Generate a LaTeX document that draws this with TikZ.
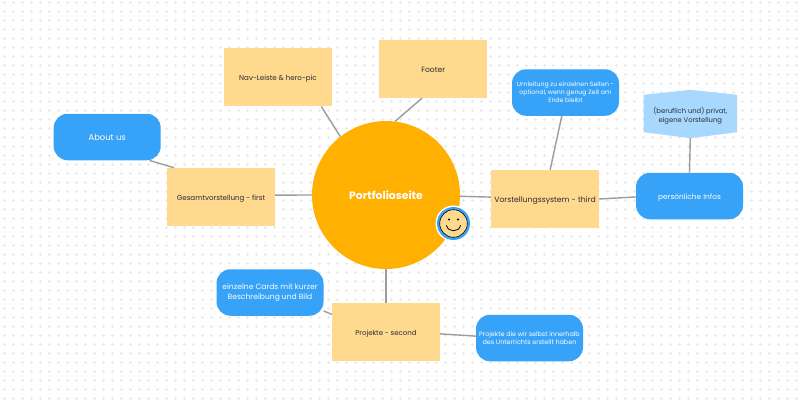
\documentclass[tikz,border=0pt]{standalone}
\usepackage{fontspec}
\setmainfont{Poppins}
\usetikzlibrary{calc}
\definecolor{hubfill}{HTML}{FFB000}
\definecolor{notefill}{HTML}{FFD98E}
\definecolor{cardfill}{HTML}{36A2F8}
\definecolor{hexfill}{HTML}{A9D8FF}
\definecolor{linkgray}{HTML}{9C9C9C}
\definecolor{inkdark}{HTML}{2B2B36}
\definecolor{dotgray}{HTML}{E9E9E9}
\tikzset{
	note/.style={fill=notefill, text=inkdark, minimum width=108pt, minimum height=58pt, inner sep=0pt, align=center, text height=8pt, text depth=1.8pt, font=\fontsize{7.1}{10}\selectfont},
	card/.style={fill=cardfill, text=white, rounded corners=14pt, minimum width=107pt, minimum height=46.5pt, inner sep=0pt, align=center},
	link/.style={draw=linkgray, line width=1.4pt}
}

\begin{document}
\begin{tikzpicture}[x=1pt, y=-1pt]
	%%%%% START %%%%%
	\useasboundingbox (0, 0) rectangle (802, 407);
	\fill[white] (0, 0) rectangle (802, 407);
	
	% dotted paper
	\foreach \px in {0,...,88}
		\foreach \py in {0,...,44}
			\draw[dotgray, line width=0.6pt] ({4.3+9*\px-1.3}, {2.3+9*\py}) -- ++(2.6, 0) ({4.3+9*\px}, {2.3+9*\py-1.3}) -- ++(0, 2.6);
	
	\node[circle, fill=hubfill, text=white, minimum size=148pt, inner sep=0pt, font=\fontsize{10.8}{12}\bfseries\selectfont] (hub) at (386, 195) {Portfolioseite};
	
	\node[note] (nav) at (278, 77.3) {Nav-Leiste \& hero-pic};
	\node[note, font=\fontsize{7.6}{10}\selectfont] (footer) at (433.2, 69) {Footer};
	\node[note] (gesamt) at (221, 197) {Gesamtvorstellung - first};
	\node[note, font=\fontsize{7.7}{10}\selectfont] (vorst) at (545, 199) {Vorstellungssystem - third};
	\node[note, font=\fontsize{7}{10}\selectfont] (proj) at (386, 332) {Projekte - second};
	
	\node[card, font=\fontsize{8.4}{10}\selectfont] (about) at (107.2, 137) {About us};
	\node[card, font=\fontsize{6.2}{7.9}\selectfont] (umleit) at (565.5, 92.5) {Umleitung zu einzelnen Seiten -\\optional, wenn genug Zeit am\\Ende bleibt};
	\node[card, text height=8pt, text depth=1.8pt, font=\fontsize{7.4}{10}\selectfont] (infos) at (689.5, 196) {persönliche Infos};
	\node[card, font=\fontsize{7.6}{9.4}\selectfont] (cards) at (270, 292.5) {einzelne Cards mit kurzer\\Beschreibung und Bild};
	\node[card, font=\fontsize{6.4}{8}\selectfont] (eigene) at (529.5, 338) {Projekte die wir selbst innerhalb\\des Unterrichts erstellt haben};
	
	\node[minimum width=93pt, minimum height=48pt, inner sep=0pt] (hex) at (690.3, 114) {};
	\fill[hexfill] (hex.north) -- ($(hex.north east)+(0, 5)$) -- ($(hex.south east)+(0, -6)$) -- (hex.south) -- ($(hex.south west)+(0, -6)$) -- ($(hex.north west)+(0, 5)$) -- cycle;
	\node[text=inkdark, align=center, font=\fontsize{6.8}{9.3}\selectfont] (hextext) at (690.3, 115.5) {(beruflich und) privat,\\eigene Vorstellung};
	
	\draw[link] (nav.-34) -- (hub.128);
	\draw[link] (footer.-111) -- (hub.83);
	\draw[link] (gesamt.2) -- (hub.180);
	\draw[link] (hub.-1) -- (vorst.178);
	\draw[link] (hub.south) -- (proj.north);
	\draw[link] (about.-29) -- (gesamt.148);
	\draw[link] (umleit.-99) -- (vorst.80);
	\draw[link] (vorst.east) -- (infos.181);
	\draw[link] (infos.north) -- (hex.south);
	\draw[link] (cards.-19) -- (proj.162);
	\draw[link] (proj.-2) -- (eigene.178);
	
	% smiley on the hub
	\fill[white] (453.5, 223.5) circle (18);
	\fill[cardfill] (453.5, 223.5) circle (16.5);
	\draw[fill=notefill, line width=0.6pt, draw=black] (453.5, 223.5) circle (13.8);
	\fill[black] (449, 219.5) circle (1.1);
	\fill[black] (458, 219.5) circle (1.1);
	\draw[line width=0.8pt, line cap=round] (446.5, 225.5) .. controls (448, 232.5) and (459, 232.5) .. (460.5, 225.5);
	
	%%%%% END %%%%%
\end{tikzpicture}
\end{document}
